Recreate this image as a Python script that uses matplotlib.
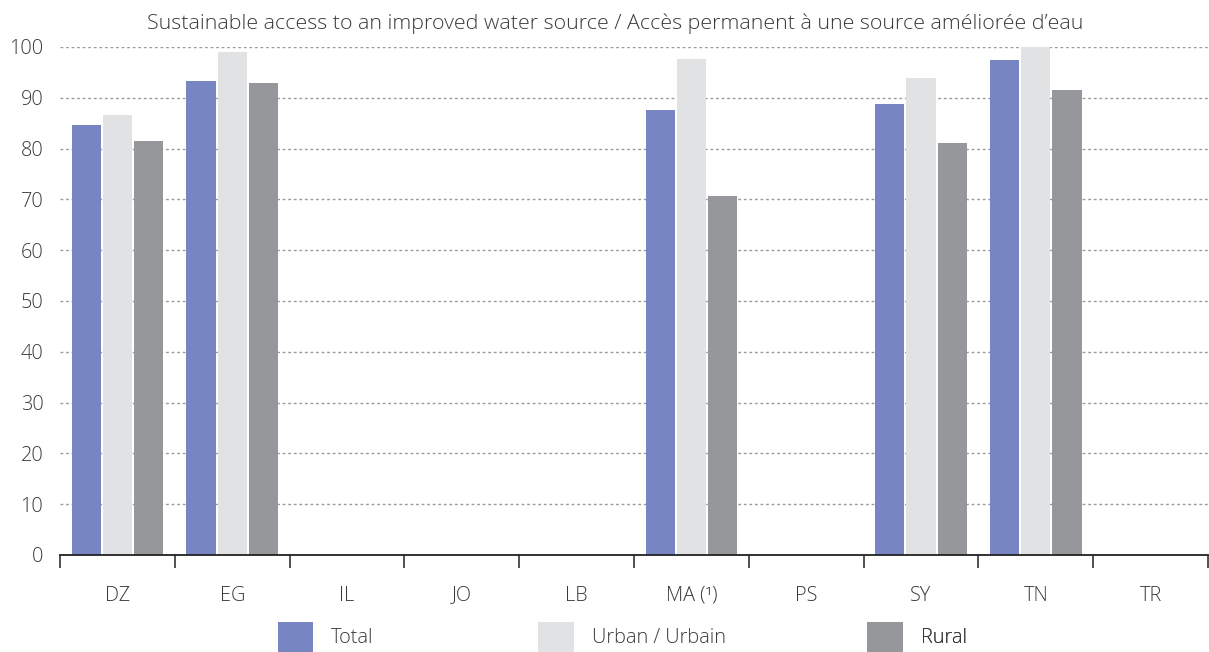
import numpy as np
import matplotlib
matplotlib.use("Agg")
from matplotlib import pyplot as plt

# ============================================================================
# DATA
# ============================================================================
countries = ["DZ", "EG", "IL", "JO", "LB", "MA (\u00b9)", "PS", "SY", "TN", "TR"]
total = [84.7, 93.3, np.nan, np.nan, np.nan, 87.6, np.nan, 88.8, 97.4, np.nan]
urban = [86.6, 99.0, np.nan, np.nan, np.nan, 97.6, np.nan, 93.9, 100.0, np.nan]
rural = [81.5, 92.9, np.nan, np.nan, np.nan, 70.7, np.nan, 81.1, 91.5, np.nan]
seriesNames = ["Total", "Urban / Urbain", "Rural"]
seriesColors = ["#7785c2", "#e1e2e4", "#96979a"]
titleText = "Sustainable access to an improved water source / Accès permanent à une source améliorée d\u2019eau"

plt.rcParams['font.family'] = ['Open Sans', 'DejaVu Sans']
plt.rcParams['font.weight'] = 'light'
textColor = "#3a3a3a"
fs = 14.3

fig = plt.figure(figsize=(12.09, 6.52), dpi=100)
ax = fig.add_axes([60/1209, 97/652, 1148/1209, 508/652])

x = np.arange(len(countries))
barWidth = 0.255
step = 0.272
bars = []
for i, (vals, name, col) in enumerate(zip([total, urban, rural], seriesNames, seriesColors)):
    b = ax.bar(x + (i - 1)*step, vals, width=barWidth, color=col, label=name,
               clip_on=False, zorder=3)
    bars.append(b)

ax.set_xlim(-0.5, len(countries) - 0.5)
ax.set_ylim(0, 100)
ax.set_yticks(np.arange(0, 101, 10))
ax.yaxis.grid(True, color="#9a9a9a", linestyle=(0, (2, 2)), linewidth=1.0, zorder=0)
ax.set_axisbelow(True)

for s in ["top", "right", "left"]:
    ax.spines[s].set_visible(False)
ax.spines["bottom"].set_color("#222222")
ax.spines["bottom"].set_linewidth(1.3)
ax.spines["bottom"].set_zorder(4)

# category boundaries as ticks, labels in the middle
ax.set_xticks(np.arange(-0.5, len(countries) + 0.5, 1.0))
ax.set_xticklabels([])
ax.set_xticks(x, minor=True)
ax.set_xticklabels(countries, minor=True)
ax.tick_params(axis="x", which="major", length=9.5, width=1.1, color="#222222", direction="out")
ax.tick_params(axis="x", which="minor", length=0, pad=22, labelsize=fs, labelcolor=textColor)
ax.tick_params(axis="y", length=0, pad=12, labelsize=fs, labelcolor=textColor)

fig.text(0.509, 0.964, titleText, ha="center", va="center", fontsize=15.4, color=textColor)

# one legend per series so each key sits where it does in the original
legendX = [0.174, 0.4007, 0.6873]
for b, name, lx in zip(bars, seriesNames, legendX):
    lg = ax.legend([b], [name], loc="upper left", bbox_to_anchor=(lx, -0.096), frameon=False,
                   fontsize=fs, handlelength=1.8, handleheight=2.0, handletextpad=0.9,
                   labelcolor=textColor)
    ax.add_artist(lg)

plt.savefig("out.png", dpi=100)
